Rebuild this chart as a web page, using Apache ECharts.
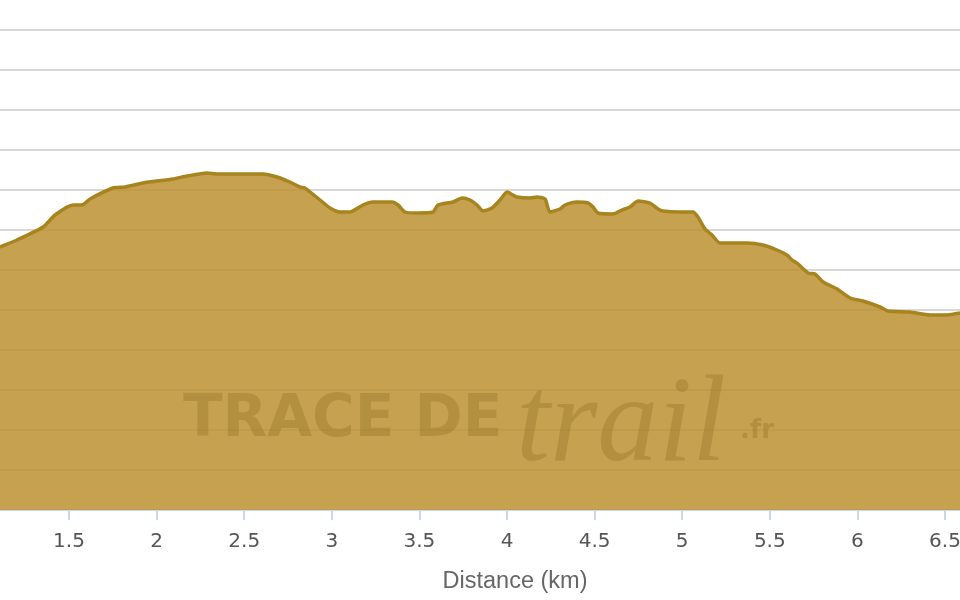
<!DOCTYPE html>
<html>
<head>
<meta charset="utf-8">
<script src="https://cdn.jsdelivr.net/npm/echarts@6/dist/echarts.min.js"></script>
<style>
  html, body { margin: 0; padding: 0; background: #ffffff; overflow: hidden; }
  #chart { width: 960px; height: 600px; }
</style>
</head>
<body>
<div id="chart"></div>
<script>
// Distance along the trail (km)
const distances = [
  1.106, 1.203, 1.352, 1.420, 1.523, 1.574, 1.620, 1.751, 1.820, 1.922,
  2.094, 2.174, 2.288, 2.345, 2.607, 2.687, 2.761, 2.818, 2.847, 2.876,
  2.933, 2.990, 3.047, 3.104, 3.178, 3.235, 3.344, 3.378, 3.418, 3.486,
  3.578, 3.606, 3.692, 3.743, 3.789, 3.829, 3.863, 3.914, 3.960, 4.000,
  4.034, 4.057, 4.131, 4.171, 4.217, 4.245, 4.302, 4.331, 4.400, 4.462,
  4.491, 4.519, 4.605, 4.656, 4.702, 4.748, 4.816, 4.862, 4.890, 4.987,
  5.062, 5.090, 5.130, 5.170, 5.216, 5.370, 5.461, 5.541, 5.598, 5.627,
  5.655, 5.718, 5.758, 5.804, 5.884, 5.958, 6.032, 6.129, 6.175, 6.300,
  6.414, 6.511, 6.586
];
// Elevation (m)
const elevations = [
  331.5, 335, 341.5, 347.5, 352.5, 352.5, 355.5, 361, 361.5, 363.5,
  365.5, 367, 368.5, 368, 368, 366.5, 364, 361.5, 361, 359,
  355, 351, 349, 349, 352.5, 354, 354, 352.5, 349, 348.5,
  349, 352.5, 354, 356, 355, 352.5, 349.5, 351, 355, 359,
  357.5, 356.5, 356, 356.5, 355.5, 349, 350.5, 352.5, 354, 353.5,
  351.5, 348.5, 348, 350, 351.5, 354.5, 353.5, 350.5, 349.5, 349,
  349, 346.5, 340.5, 337.5, 333.5, 333.5, 332.5, 330, 327.5, 325,
  323.5, 318.5, 318, 314, 310.5, 306, 304.5, 301.5, 299.5, 299,
  297.5, 297.5, 298.5
];
// Visible distance range and tick labels
const xRange = { min: 1.10616, max: 6.5856 };
const xTickValues = [1.5, 2, 2.5, 3, 3.5, 4, 4.5, 5, 5.5, 6, 6.5];
const yTicks = { min: 200, max: 440, interval: 20 };
const xTitle = 'Distance (km)';

const seriesData = distances.map((d, i) => [d, elevations[i]]);

const wmColor = 'rgba(140,105,25,0.3)';
const chart = echarts.init(document.getElementById('chart'), null, { renderer: 'canvas' });
chart.setOption({
  animation: false,
  backgroundColor: '#ffffff',
  grid: { left: 0, right: 0, top: 30, bottom: 90, containLabel: false, outerBoundsMode: 'none' },
  xAxis: {
    type: 'value',
    min: xRange.min, max: xRange.max,
    name: xTitle,
    nameLocation: 'middle',
    nameGap: 60,
    nameTextStyle: { color: '#666666', fontSize: 23.5, fontFamily: 'Liberation Sans', padding: [0, 0, 0, 70] },
    axisLine: { show: true, lineStyle: { color: '#ccd6eb', width: 2 } },
    axisTick: { show: true, length: 10, customValues: xTickValues, lineStyle: { color: '#ccd6eb', width: 2 } },
    axisLabel: { color: '#555555', fontSize: 20, fontFamily: 'DejaVu Sans', margin: 22, customValues: xTickValues },
    splitLine: { show: false }
  },
  yAxis: {
    type: 'value',
    min: yTicks.min, max: yTicks.max, interval: yTicks.interval,
    axisLine: { show: false },
    axisTick: { show: false },
    axisLabel: { show: false },
    splitLine: { show: true, lineStyle: { color: '#d8d8d8', width: 2 } }
  },
  graphic: [
    { type: 'text', left: 183, top: 392, z: 10, silent: true,
      style: { text: 'TRACE DE', fill: wmColor, fontSize: 58, fontWeight: 'bold', fontFamily: 'DejaVu Sans' } },
    { type: 'text', left: 516, top: 367, z: 10, silent: true,
      style: { text: 'trail', fill: wmColor, fontSize: 122, fontStyle: 'italic', fontFamily: 'Liberation Serif' } },
    { type: 'text', left: 740, top: 418, z: 10, silent: true,
      style: { text: '.fr', fill: wmColor, fontSize: 26, fontWeight: 'bold', fontFamily: 'DejaVu Sans' } }
  ],
  series: [{
    type: 'line',
    data: seriesData,
    showSymbol: false,
    smooth: 0.2,
    lineStyle: { color: '#a8841f', width: 3.5 },
    areaStyle: { color: 'rgb(187,144,49)', opacity: 0.85 },
    z: 2
  }]
});
</script>
</body>
</html>
